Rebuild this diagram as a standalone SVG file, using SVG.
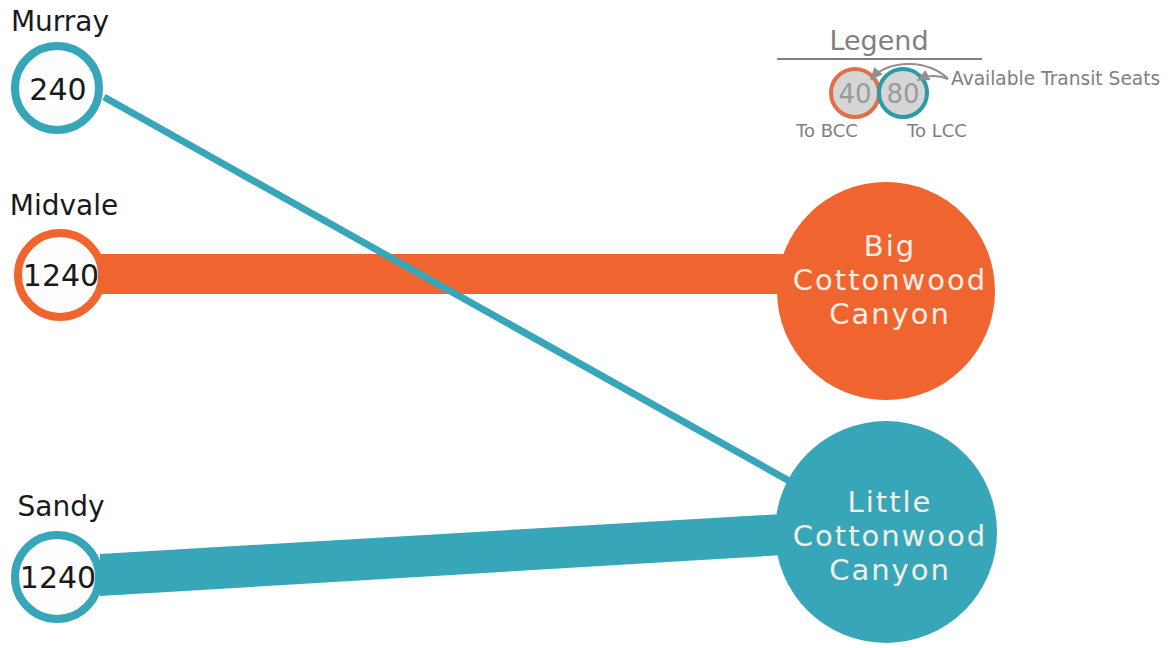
<svg xmlns="http://www.w3.org/2000/svg" width="1173" height="648" viewBox="0 0 1173 648">
<defs>
<style>
.lbl{font-family:"DejaVu Sans","Liberation Sans",sans-serif;fill:#1a1a1a;text-anchor:middle}
.big{font-family:"DejaVu Sans","Liberation Sans",sans-serif;fill:#f4efe6;text-anchor:middle;font-size:29px;letter-spacing:2px}
.leg{font-family:"DejaVu Sans","Liberation Sans",sans-serif;fill:#808080}
.ring{fill:#fdfdfd;stroke-width:8}
.org{fill:#f0652f}
.teal{fill:#37a6b9}
</style>
<marker id="ah" viewBox="0 0 10 10" refX="8" refY="5" markerWidth="7" markerHeight="7" orient="auto-start-reverse">
<path d="M0,1 L9,5 L0,9 z" fill="#909090"/>
</marker>
</defs>
<rect width="1173" height="648" fill="#ffffff"/>
<g id="connectors">
<polygon class="org" points="100,254 800,254 800,294 100,294"/>
<polygon class="teal" points="100,554 800,513 800,554 100,596"/>
<line x1="104" y1="97" x2="800" y2="487" stroke="#37a6b9" stroke-width="7"/>
</g>
<g id="bcc">
<circle class="org" cx="886" cy="291" r="109"/>
<text class="big" x="890" y="256">Big</text>
<text class="big" x="890" y="290">Cottonwood</text>
<text class="big" x="890" y="324">Canyon</text>
</g>
<g id="lcc">
<circle class="teal" cx="886" cy="532" r="111"/>
<text class="big" x="890" y="512">Little</text>
<text class="big" x="890" y="546">Cottonwood</text>
<text class="big" x="890" y="580">Canyon</text>
</g>
<g id="murray">
<text class="lbl" x="60" y="31" font-size="28">Murray</text>
<circle class="ring" cx="57" cy="88" r="42" stroke="#37a6b9"/>
<text class="lbl" x="58" y="100" font-size="30">240</text>
</g>
<g id="midvale">
<text class="lbl" x="64" y="215" font-size="28">Midvale</text>
<circle class="ring" cx="60" cy="275" r="42" stroke="#f0652f"/>
<text class="lbl" x="61" y="286" font-size="30">1240</text>
</g>
<g id="sandy">
<text class="lbl" x="61" y="516" font-size="28">Sandy</text>
<circle class="ring" cx="57" cy="577" r="42" stroke="#37a6b9"/>
<text class="lbl" x="58" y="588" font-size="30">1240</text>
</g>
<g id="legend">
<text class="leg" x="879" y="50" font-size="27" text-anchor="middle">Legend</text>
<line x1="777" y1="59" x2="982" y2="59" stroke="#808080" stroke-width="2"/>
<circle cx="855" cy="93" r="24" fill="#d6d6d6" stroke="#e0704a" stroke-width="4"/>
<text class="leg" x="855" y="103" font-size="26" text-anchor="middle" style="fill:#9a9a9a">40</text>
<circle cx="903" cy="93" r="24" fill="#d6d6d6" stroke="#2f9aa6" stroke-width="4"/>
<text class="leg" x="903" y="103" font-size="26" text-anchor="middle" style="fill:#9a9a9a">80</text>
<text class="leg" x="827" y="137" font-size="18" text-anchor="middle">To BCC</text>
<text class="leg" x="937" y="137" font-size="18" text-anchor="middle">To LCC</text>
<text class="leg" x="951" y="85" font-size="18.6">Available Transit Seats</text>
<path d="M948,79 C930,60 890,58 871,79" fill="none" stroke="#909090" stroke-width="2" marker-end="url(#ah)"/>
<path d="M948,79 C938,75 928,75 918,80" fill="none" stroke="#909090" stroke-width="2" marker-end="url(#ah)"/>
</g>
</svg>
